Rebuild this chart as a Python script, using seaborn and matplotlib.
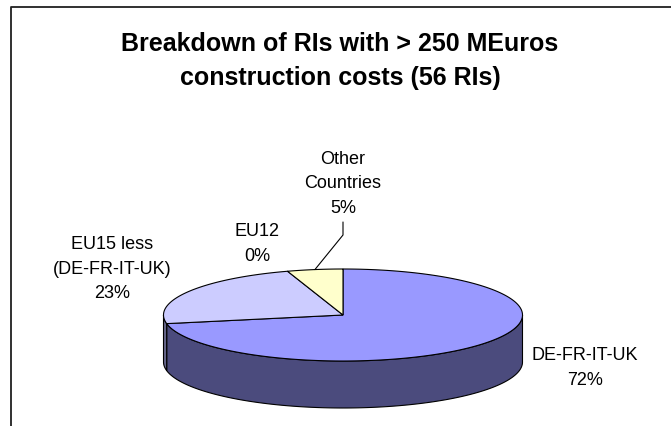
import numpy as np
import matplotlib
matplotlib.use("Agg")
import matplotlib.pyplot as plt
from matplotlib.patches import Polygon
import seaborn as sns

# Share of large research infrastructures by host-country group
categories = ["DE-FR-IT-UK", "EU15 less\n(DE-FR-IT-UK)", "EU12", "Other\nCountries"]
shares = [72, 23, 0, 5]
top_colors = ["#9999FF", "#CCCCFF", "#FFFFCC", "#FFFFCC"]
side_colors = ["#4B4B7D", "#66668A", "#80805F", "#80805F"]

sns.set_theme(style="white")
plt.rcParams["font.family"] = ["Liberation Sans", "DejaVu Sans"]
plt.rcParams["text.color"] = "black"

fig = plt.figure(figsize=(6.71, 4.26), dpi=100)
ax = fig.add_axes([0, 0, 1, 1])
ax.set_xlim(0, 671)
ax.set_ylim(426, 0)
ax.axis("off")

# chart frame (only left and top edges fall inside the canvas)
ax.plot([11, 11, 671], [426, 7, 7], color="#202020", lw=1.3, solid_capstyle="butt")

ax.text(340, 61, "Breakdown of RIs with > 250 MEuros\nconstruction costs (56 RIs)",
        ha="center", va="center", fontsize=18, fontweight="bold",
        linespacing=1.55, color="black")

# 3-D pie geometry
cx, cy, rx, ry, depth = 343, 315, 179.5, 46, 47
total = float(sum(shares))
spans = [s / total * 360.0 for s in shares]
starts = []
ang = 90.0
for sp in spans:
    starts.append(ang)
    ang -= sp  # clockwise


def ellipse_pts(t0, t1, dy=0.0, n=200):
    t = np.radians(np.linspace(t0, t1, n))
    return np.column_stack([cx + rx * np.cos(t), cy - ry * np.sin(t) + dy])


# side walls: only the front half (angles between -180 and 0) is visible
for st, sp, sc in zip(starts, spans, side_colors):
    if sp <= 0:
        continue
    a_hi, a_lo = st, st - sp
    for shift in (0.0, -360.0, 360.0):
        lo = max(a_lo + shift, -180.0)
        hi = min(a_hi + shift, 0.0)
        if hi - lo > 1e-6:
            top = ellipse_pts(lo, hi)
            bot = ellipse_pts(hi, lo, dy=depth)
            ax.add_patch(Polygon(np.vstack([top, bot]), closed=True,
                                 facecolor=sc, edgecolor="black", lw=0.8, zorder=2))

# top faces
for st, sp, tc in zip(starts, spans, top_colors):
    if sp <= 0:
        continue
    arc = ellipse_pts(st, st - sp)
    pts = np.vstack([[cx, cy], arc])
    ax.add_patch(Polygon(pts, closed=True, facecolor=tc, edgecolor="black",
                         lw=0.8, zorder=3))

# data labels
label_pos = [(585, 368), (112, 269), (257, 244), (343, 184)]
for name, s, (lx, ly) in zip(categories, shares, label_pos):
    ax.text(lx, ly, f"{name}\n{s / total * 100:.0f}%", ha="center", va="center",
            fontsize=13, linespacing=1.55, color="black", zorder=5)

# leader line for the small "Other Countries" slice
mid = starts[3] - spans[3] / 2
mt = np.radians(mid)
mx, my = cx + rx * np.cos(mt), cy - ry * np.sin(mt)
ax.plot([343, 343, mx], [222, 235, my], color="black", lw=0.8, zorder=4)

fig.savefig("out.png", dpi=100)
